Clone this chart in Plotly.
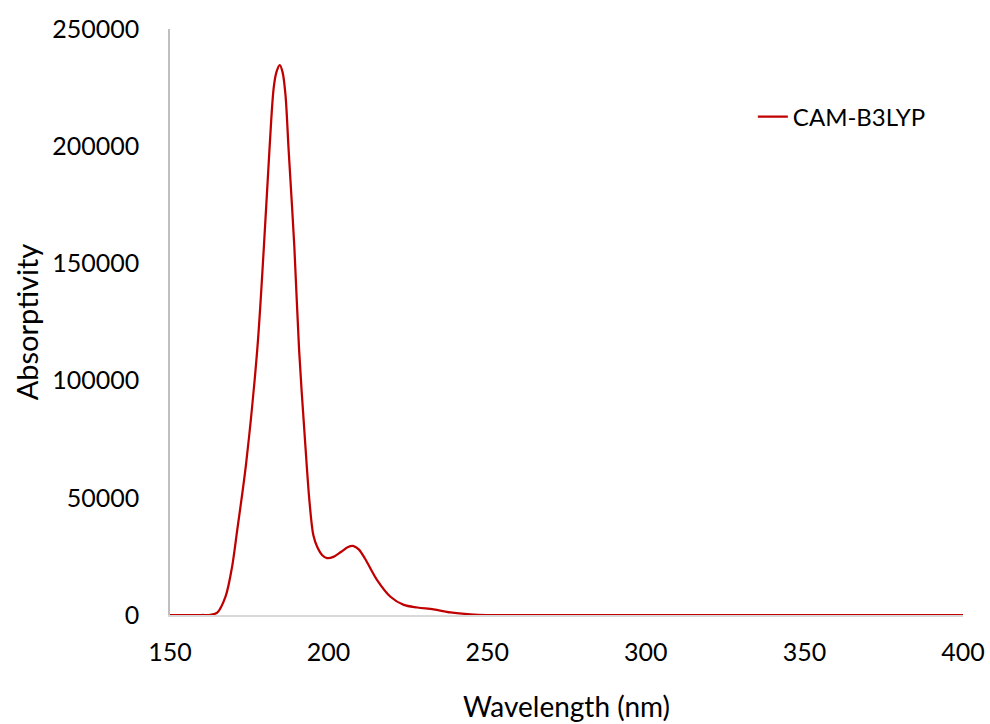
import plotly.graph_objects as go

wavelength = [150, 155, 160, 162.8, 164.9, 167.5, 169.5, 171.2, 174.0, 177.5, 179.6, 181.35, 182.7,
              183.6, 184.6, 185.5, 186.4, 187.4, 189.2, 190.7, 192.7, 194.0, 195.2, 196.4, 198.0,
              199.5, 201.5, 204.0, 206.0, 207.9, 209.5, 211.5, 215.3, 219.5, 223.7, 228.0, 233.1,
              238.4, 244.7, 250, 275, 300, 325, 350, 375, 400]
absorptivity = [0, 0, 0, 100, 1000, 7800, 20000, 36300, 64700, 113100, 157100, 198400, 225000,
                231800, 234600, 231500, 222000, 198400, 157100, 113100, 71800, 48000, 34000, 29100, 25500,
                24300, 24800, 27000, 28900, 29400, 28000, 24000, 14900, 7800, 4300, 3200, 2400,
                1100, 300, 0, 0, 0, 0, 0, 0, 0]

x_ticks = [150, 200, 250, 300, 350, 400]
y_ticks = [0, 50000, 100000, 150000, 200000, 250000]

FONT = "Lato"

fig = go.Figure()
fig.add_trace(go.Scatter(
    x=wavelength, y=absorptivity, mode="lines", name="CAM-B3LYP",
    line=dict(color="#C00000", width=2.25, shape="spline", smoothing=0.9),
))

fig.update_layout(
    width=990, height=724,
    margin=dict(l=170, r=27, t=29, b=109, autoexpand=False),
    paper_bgcolor="white", plot_bgcolor="white",
    font=dict(family=FONT, size=25, color="black"),
    showlegend=True,
    legend=dict(x=0.735, y=0.85, xanchor="left", yanchor="middle",
                font=dict(family=FONT, size=24, color="black"),
                bgcolor="rgba(0,0,0,0)", itemwidth=30),
    xaxis=dict(
        range=[150, 400], tickvals=x_ticks, ticktext=[str(v) for v in x_ticks],
        showgrid=False, zeroline=False, automargin=False,
        showline=True, linecolor="#d9d9d9", linewidth=1.5,
        ticks="outside", ticklen=14, tickcolor="rgba(0,0,0,0)",
        title=dict(text="Wavelength (nm)", standoff=33, font=dict(size=28)),
    ),
    yaxis=dict(
        range=[0, 250000], tickvals=y_ticks, ticktext=[str(v) for v in y_ticks],
        showgrid=False, zeroline=False, automargin=False,
        showline=True, linecolor="#bfbfbf", linewidth=1.5,
        ticks="outside", ticklen=24, tickcolor="rgba(0,0,0,0)",
        title=dict(text="Absorptivity", standoff=5, font=dict(size=29)),
    ),
)

fig.write_html("out.html")
